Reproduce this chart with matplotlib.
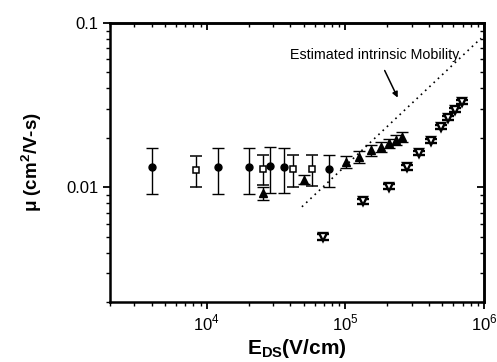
import matplotlib
matplotlib.use("Agg")
import matplotlib.pyplot as plt
from matplotlib.ticker import LogLocator, FixedLocator, FixedFormatter, NullFormatter

plt.rcParams['font.family'] = ['Liberation Sans', 'DejaVu Sans']
plt.rcParams['mathtext.fontset'] = 'custom'
plt.rcParams['mathtext.rm'] = 'Liberation Sans'
plt.rcParams['mathtext.bf'] = 'Liberation Sans:bold'

# Filled circles
circ_E = [4000, 12000, 20000, 28500, 36000, 76000]
circ_mu = [0.0132, 0.0132, 0.0132, 0.0134, 0.0133, 0.0129]
circ_err = [0.0041, 0.0041, 0.0041, 0.0042, 0.0041, 0.0028]

# Open squares
sq_E = [8300, 25500, 42000, 57500]
sq_mu = [0.0128, 0.0130, 0.0129, 0.0130]
sq_err = [0.0027, 0.0027, 0.0028, 0.0028]

# Filled up-triangles
up_E = [25500, 50500, 101600, 126000, 153500, 179300, 206000, 233000, 257700]
up_mu = [0.0092, 0.0111, 0.0143, 0.0153, 0.0168, 0.0176, 0.0185, 0.0194, 0.0203]
up_err = [0.0008, 0.0007, 0.0012, 0.0013, 0.0014, 0.0013, 0.0012, 0.0014, 0.0015]

# Open down-triangles
down_E = [68800, 134000, 206000, 280000, 340000, 413000, 488000, 545000, 616000, 689000]
down_mu = [0.0050, 0.0082, 0.0101, 0.0132, 0.0162, 0.0191, 0.0233, 0.0264, 0.0295, 0.0331]
down_err = [0.0002, 0.0003, 0.0003, 0.0004, 0.0005, 0.0006, 0.0007, 0.0008, 0.0009, 0.0010]

# Estimated intrinsic mobility line
line_E = [48500, 950000]
line_mu = [0.0076, 0.0807]

x_ticks = [1e4, 1e5, 1e6]
x_labels = [r'$10^{4}$', r'$10^{5}$', r'$10^{6}$']
y_ticks = [0.01, 0.1]
y_labels = ['0.01', '0.1']

fig = plt.figure(figsize=(4.97, 3.62), dpi=100)
ax = fig.add_axes([0.2213, 0.1657, 0.974 - 0.2213, 0.9365 - 0.1657])
ax.set_xscale('log')
ax.set_yscale('log')

eb = dict(ecolor='black', elinewidth=1.0, capsize=4, capthick=1.0, linestyle='none')
ax.errorbar(circ_E, circ_mu, yerr=circ_err, marker='o', ms=5, mfc='black', mec='black', **eb)
ax.errorbar(sq_E, sq_mu, yerr=sq_err, marker='s', ms=4.3, mfc='white', mec='black', mew=1.1, **eb)
ax.errorbar(up_E, up_mu, yerr=up_err, marker='^', ms=6, mfc='black', mec='black', **eb)
ax.errorbar(down_E, down_mu, yerr=down_err, marker='v', ms=6, mfc='white', mec='black',
            mew=1.7, ecolor='black', elinewidth=1.0, capsize=4.5, capthick=1.7, linestyle='none')

ax.plot(line_E, line_mu, linestyle=(0, (1, 2.5)), color='black', linewidth=1.2)

ax.annotate('', xy=(243000, 0.0339), xytext=(188000, 0.0532),
            arrowprops=dict(arrowstyle='-|>', color='black', lw=1.1, mutation_scale=8))
ax.text(162000, 0.0640, 'Estimated intrinsic Mobility', ha='center', va='center', fontsize=10.3)

ax.set_xlim(2000, 1e6)
ax.set_ylim(0.002, 0.1)

ax.xaxis.set_major_locator(FixedLocator(x_ticks))
ax.xaxis.set_major_formatter(FixedFormatter(x_labels))
ax.xaxis.set_minor_locator(LogLocator(base=10, subs=range(2, 10)))
ax.xaxis.set_minor_formatter(NullFormatter())
ax.yaxis.set_major_locator(FixedLocator(y_ticks))
ax.yaxis.set_major_formatter(FixedFormatter(y_labels))
ax.yaxis.set_minor_locator(LogLocator(base=10, subs=range(2, 10)))
ax.yaxis.set_minor_formatter(NullFormatter())

for s in ax.spines.values():
    s.set_linewidth(1.8)

ax.tick_params(which='both', direction='out', top=False, right=False, labelsize=12, pad=3)
ax.tick_params(which='major', length=5, width=1.3)
ax.tick_params(which='minor', length=3, width=1.0)

# mirrored ticks on top and right pointing inward
axt = ax.secondary_xaxis('top')
axt.xaxis.set_major_locator(FixedLocator(x_ticks))
axt.xaxis.set_minor_locator(LogLocator(base=10, subs=range(2, 10)))
axt.tick_params(which='both', direction='in', labeltop=False)
axt.tick_params(which='major', length=5, width=1.3)
axt.tick_params(which='minor', length=3, width=1.0)
axt.spines['top'].set_linewidth(1.8)
axr = ax.secondary_yaxis('right')
axr.yaxis.set_major_locator(FixedLocator(y_ticks))
axr.yaxis.set_minor_locator(LogLocator(base=10, subs=range(2, 10)))
axr.tick_params(which='both', direction='in', labelright=False)
axr.tick_params(which='major', length=5, width=1.3)
axr.tick_params(which='minor', length=3, width=1.0)
axr.spines['right'].set_linewidth(1.8)

ax.set_xlabel(r'$\mathbf{E_{DS}}$(V/cm)', fontsize=15, fontweight='bold', labelpad=2)
ax.set_ylabel(r'$\mathregular{\mu}$ (cm$^{\mathbf{2}}$/V-s)', fontsize=13.5, fontweight='bold', labelpad=16)

fig.savefig('out.png', dpi=100)
